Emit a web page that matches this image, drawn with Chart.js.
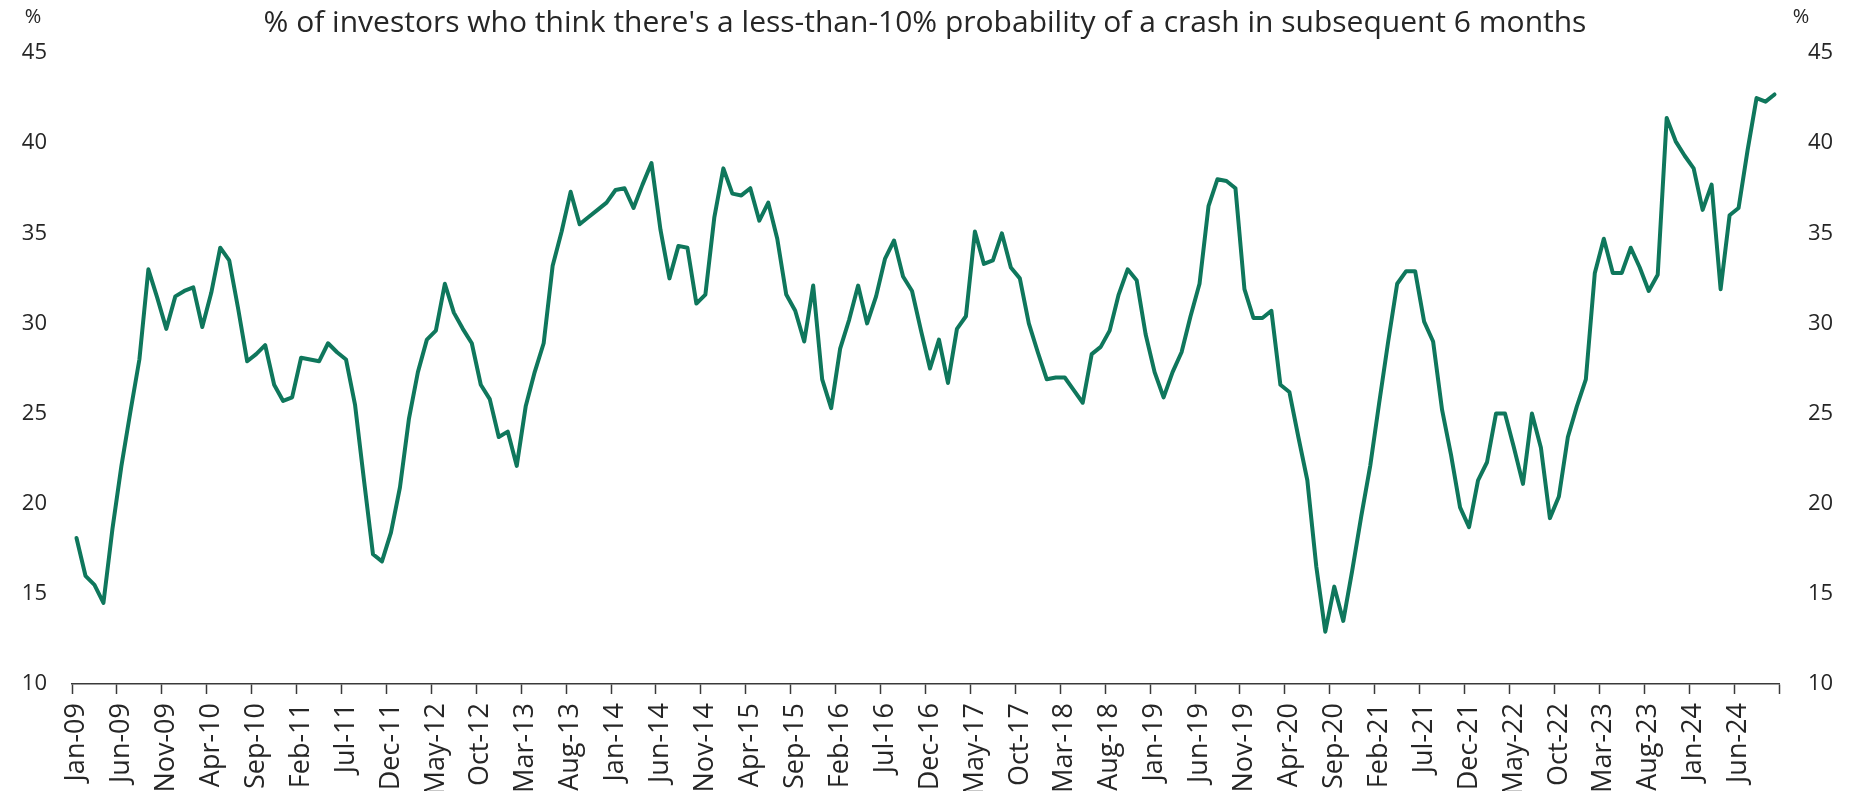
<!DOCTYPE html>
<html>
<head>
<meta charset="utf-8">
<title>Investor crash-probability survey</title>
<script src="https://cdn.jsdelivr.net/npm/chart.js@4.4.1/dist/chart.umd.min.js"></script>
<style>
  html, body { margin: 0; padding: 0; background: #ffffff; }
  #wrap { position: relative; width: 1850px; height: 791px; }
</style>
</head>
<body>
<div id="wrap"><canvas id="chart"></canvas></div>
<script>
// ── data ──
const chartTitle = "% of investors who think there's a less-than-10% probability of a crash in subsequent 6 months";
const unitLabel = '%';

const monthNames = ['Jan', 'Feb', 'Mar', 'Apr', 'May', 'Jun', 'Jul', 'Aug', 'Sep', 'Oct', 'Nov', 'Dec'];
const firstYear = 2009;
const lastYear = 2024;

// monthly readings, Jan-09 .. Oct-24
const values = [
  18.1, 16.0, 15.5, 14.5, 18.6, 22.1, 25.1, 28.0, 33.0, 31.4, 29.7, 31.5,   // 2009
  31.8, 32.0, 29.8, 31.7, 34.2, 33.5, 30.8, 27.9, 28.3, 28.8, 26.6, 25.7,   // 2010
  25.9, 28.1, 28.0, 27.9, 28.9, 28.4, 28.0, 25.5, 21.3, 17.2, 16.8, 18.4,   // 2011
  20.9, 24.7, 27.3, 29.1, 29.6, 32.2, 30.6, 29.7, 28.9, 26.6, 25.8, 23.7,   // 2012
  24.0, 22.1, 25.4, 27.3, 28.9, 33.2, 35.1, 37.3, 35.5, 35.9, 36.3, 36.7,   // 2013
  37.4, 37.5, 36.4, 37.7, 38.9, 35.2, 32.5, 34.3, 34.2, 31.1, 31.6, 35.9,   // 2014
  38.6, 37.2, 37.1, 37.5, 35.7, 36.7, 34.7, 31.6, 30.7, 29.0, 32.1, 26.9,   // 2015
  25.3, 28.6, 30.2, 32.1, 30.0, 31.5, 33.6, 34.6, 32.6, 31.8, 29.6, 27.5,   // 2016
  29.1, 26.7, 29.7, 30.4, 35.1, 33.3, 33.5, 35.0, 33.1, 32.5, 30.0, 28.4,   // 2017
  26.9, 27.0, 27.0, 26.3, 25.6, 28.3, 28.7, 29.6, 31.6, 33.0, 32.4, 29.4,   // 2018
  27.3, 25.9, 27.3, 28.4, 30.4, 32.2, 36.5, 38.0, 37.9, 37.5, 31.9, 30.3,   // 2019
  30.3, 30.7, 26.6, 26.2, 23.7, 21.3, 16.5, 12.9, 15.4, 13.5, 16.3, 19.3,   // 2020
  22.1, 25.6, 29.0, 32.2, 32.9, 32.9, 30.1, 29.0, 25.2, 22.7, 19.8, 18.7,   // 2021
  21.3, 22.3, 25.0, 25.0, 23.1, 21.1, 25.0, 23.1, 19.2, 20.4, 23.7, 25.4,   // 2022
  26.9, 32.8, 34.7, 32.8, 32.8, 34.2, 33.1, 31.8, 32.7, 41.4, 40.1, 39.3,   // 2023
  38.6, 36.3, 37.7, 31.9, 36.0, 36.4, 39.6, 42.5, 42.3, 42.7               // 2024
];

const yTicks = [10, 15, 20, 25, 30, 35, 40, 45];
const labelEvery = 5;

// category labels like "Jan-09"
const months = [];
for (let y = firstYear; y <= lastYear; y++) {
  monthNames.forEach(m => months.push(`${m}-${String(y).slice(2)}`));
}
const labels = months.slice(0, values.length);

// ── style ──
const lineColor = '#0f775c';
const textColor = '#262626';
const axisColor = '#3a3a3a';
const fontFamily = "'Open Sans', 'Noto Sans', sans-serif";

// unit markers above each value axis
const unitPlugin = {
  id: 'units',
  afterDraw(chart) {
    const { ctx } = chart;
    ctx.save();
    ctx.fillStyle = textColor;
    ctx.font = `20px ${fontFamily}`;
    ctx.textAlign = 'center';
    ctx.textBaseline = 'middle';
    ctx.fillText(unitLabel, 33, 17);
    ctx.fillText(unitLabel, 1801, 17);
    ctx.restore();
  }
};

const yAxis = (position, width, pad) => ({
  type: 'linear',
  position,
  min: yTicks[0],
  max: yTicks[yTicks.length - 1],
  afterBuildTicks: scale => { scale.ticks = yTicks.map(v => ({ value: v })); },
  afterFit: scale => { scale.width = width; },
  grid: { display: false, drawTicks: false },
  border: { display: false },
  ticks: {
    color: textColor,
    font: { family: fontFamily, size: 22 },
    padding: pad
  }
});

new Chart(document.getElementById('chart'), {
  type: 'line',
  data: {
    labels,
    datasets: [{
      data: values,
      borderColor: lineColor,
      borderWidth: 4,
      borderJoinStyle: 'round',
      borderCapStyle: 'round',
      pointRadius: 0,
      tension: 0,
      fill: false
    }]
  },
  options: {
    responsive: true,
    maintainAspectRatio: false,
    animation: false,
    layout: { padding: 0 },
    plugins: {
      legend: { display: false },
      tooltip: { enabled: false },
      title: {
        display: true,
        text: chartTitle,
        color: textColor,
        font: { family: fontFamily, size: 30, weight: 'normal' },
        padding: { top: 5, bottom: 12 }
      }
    },
    scales: {
      x: {
        type: 'category',
        offset: true,
        afterFit: scale => { scale.height = 107; },
        grid: {
          display: true,
          offset: true,
          drawOnChartArea: false,
          drawTicks: true,
          tickLength: 10,
          tickWidth: 1.5,
          tickColor: ctx => (ctx.type !== 'tick' || ctx.index % labelEvery === 0) ? axisColor : 'rgba(0,0,0,0)'
        },
        border: { display: true, color: axisColor, width: 1.5 },
        ticks: {
          autoSkip: false,
          minRotation: 90,
          maxRotation: 90,
          padding: 9,
          color: textColor,
          font: { family: fontFamily, size: 27 },
          callback: (val, i) => (i % labelEvery === 0 ? labels[i] : '')
        }
      },
      y: yAxis('left', 72, 25),
      y2: yAxis('right', 71, 29)
    }
  },
  plugins: [unitPlugin]
});
</script>
</body>
</html>
